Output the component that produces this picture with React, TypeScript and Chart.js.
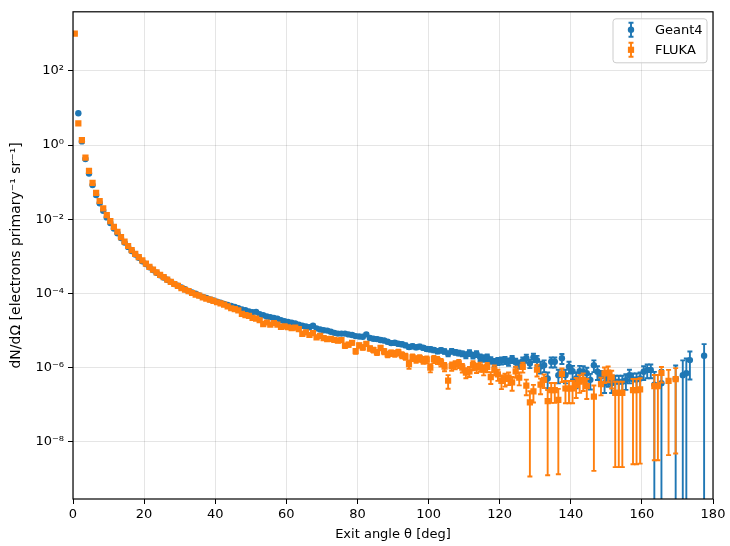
import { useEffect, useRef } from "react";
import { Chart, registerables } from "chart.js";

Chart.register(...registerables);

// bin centres, one degree wide
const angles = Array.from({ length: 180 }, (_, i) => i + 0.5);

// dN/dOmega per bin (null = no entry)
const g4Values = [
  null, 7.2, 1.25, 0.42, 0.17, 0.083, 0.045, 0.027, 0.017, 0.0112,
  7.9e-3, 5.6e-3, 4.2e-3, 3.1e-3, 2.35e-3, 1.8e-3, 1.4e-3, 1.12e-3, 9.1e-4, 7.4e-4,
  6.2e-4, 5.1e-4, 4.3e-4, 3.6e-4, 3.1e-4, 2.7e-4, 2.35e-4, 2.05e-4, 1.8e-4, 1.62e-4,
  1.45e-4, 1.3e-4, 1.17e-4, 1.07e-4, 9.8e-5, 8.9e-5, 8.1e-5, 7.6e-5, 6.9e-5, 6.5e-5,
  6.0e-5, 5.6e-5, 5.2e-5, 4.9e-5, 4.6e-5, 4.3e-5, 4.0e-5, 3.7e-5, 3.55e-5, 3.3e-5,
  3.15e-5, 3.2e-5, 2.75e-5, 2.6e-5, 2.4e-5, 2.3e-5, 2.2e-5, 2.1e-5, 1.9e-5, 1.78e-5,
  1.7e-5, 1.62e-5, 1.55e-5, 1.45e-5, 1.35e-5, 1.29e-5, 1.23e-5, 1.35e-5, 1.15e-5, 1.07e-5,
  1.02e-5, 1.0e-5, 9.3e-6, 8.7e-6, 8.3e-6, 8.3e-6, 8.3e-6, 7.9e-6, 7.6e-6, 7.1e-6,
  6.9e-6, 6.8e-6, 7.9e-6, 6.3e-6, 6.0e-6, 5.9e-6, 5.6e-6, 5.4e-6, 5.0e-6, 4.6e-6,
  4.7e-6, 4.4e-6, 4.3e-6, 4.0e-6, 3.6e-6, 3.8e-6, 3.55e-6, 3.7e-6, 3.45e-6, 3.2e-6,
  3.15e-6, 3.0e-6, 2.8e-6, 2.95e-6, 2.75e-6, 2.4e-6, 2.8e-6, 2.6e-6, 2.5e-6, 2.4e-6,
  2.2e-6, 2.5e-6, 2.15e-6, 2.35e-6, 1.9e-6, 1.8e-6, 1.9e-6, 1.6e-6, 1.4e-6, 1.5e-6,
  1.55e-6, 1.6e-6, 1.45e-6, 1.7e-6, 1.4e-6, 1.25e-6, 1.5e-6, 1.8e-6, 1.3e-6, 1.9e-6,
  1.6e-6, 1.07e-6, 1.17e-6, 5.1e-7, 1.45e-6, 1.45e-6, 6.3e-7, 1.8e-6, 6.3e-7, 1.07e-6,
  8e-7, 5.1e-7, 8e-7, 7.8e-7, 7.1e-7, 4.7e-7, 1.17e-6, 7.8e-7, 5.8e-7, 3.8e-7,
  5.1e-7, 3.8e-7, 4.2e-7, 4.2e-7, 4.2e-7, 4.6e-7, 6.3e-7, 4.8e-7, 4.8e-7, 5.1e-7,
  7.8e-7, 8.7e-7, 8.7e-7, 3.5e-7, null, 3.8e-7, null, null, null, 5e-7,
  null, 6.3e-7, 7.1e-7, 1.6e-6, null, null, null, 2.1e-6, null, null,
];

// relative statistical error per bin
const g4RelErr = [
  0.01, 0.01, 0.01, 0.01, 0.01, 0.01, 0.01, 0.01, 0.01, 0.01,
  0.01, 0.01, 0.01, 0.01, 0.01, 0.01, 0.01, 0.01, 0.01, 0.01,
  0.01, 0.01, 0.01, 0.01, 0.01, 0.01, 0.01, 0.01, 0.01, 0.01,
  0.02, 0.02, 0.02, 0.02, 0.02, 0.03, 0.03, 0.03, 0.03, 0.03,
  0.03, 0.03, 0.03, 0.04, 0.04, 0.04, 0.04, 0.04, 0.04, 0.04,
  0.05, 0.05, 0.05, 0.05, 0.05, 0.05, 0.05, 0.05, 0.05, 0.05,
  0.06, 0.06, 0.06, 0.06, 0.06, 0.06, 0.06, 0.06, 0.06, 0.06,
  0.08, 0.08, 0.08, 0.08, 0.08, 0.08, 0.08, 0.08, 0.08, 0.08,
  0.09, 0.09, 0.09, 0.09, 0.09, 0.1, 0.1, 0.1, 0.1, 0.1,
  0.12, 0.12, 0.12, 0.12, 0.12, 0.12, 0.12, 0.12, 0.12, 0.12,
  0.14, 0.14, 0.14, 0.14, 0.14, 0.15, 0.15, 0.15, 0.15, 0.15,
  0.18, 0.18, 0.18, 0.18, 0.2, 0.2, 0.2, 0.2, 0.22, 0.22,
  0.22, 0.22, 0.22, 0.22, 0.25, 0.25, 0.25, 0.25, 0.25, 0.25,
  0.3, 0.35, 0.35, 0.45, 0.3, 0.3, 0.4, 0.3, 0.4, 0.35,
  0.4, 0.45, 0.4, 0.4, 0.4, 0.45, 0.35, 0.4, 0.4, 0.45,
  0.4, 0.45, 0.45, 0.45, 0.45, 0.45, 0.4, 0.45, 0.45, 0.45,
  0.4, 0.4, 0.4, 1.2, 0, 1.3, 0, 0, 0, 1.3,
  0, 1.5, 1.5, 0.7, 0, 0, 0, 1.05, 0, 0,
];

const flukaValues = [
  1000, 3.8, 1.35, 0.46, 0.2, 0.095, 0.051, 0.031, 0.0195, 0.0129,
  8.9e-3, 6.2e-3, 4.6e-3, 3.3e-3, 2.5e-3, 1.9e-3, 1.48e-3, 1.17e-3, 9.5e-4, 7.8e-4,
  6.4e-4, 5.2e-4, 4.4e-4, 3.7e-4, 3.15e-4, 2.75e-4, 2.35e-4, 2.05e-4, 1.8e-4, 1.6e-4,
  1.4e-4, 1.26e-4, 1.15e-4, 1.03e-4, 9.3e-5, 8.7e-5, 7.9e-5, 7.2e-5, 6.8e-5, 6.3e-5,
  5.8e-5, 5.4e-5, 5.0e-5, 4.5e-5, 4.0e-5, 3.8e-5, 3.5e-5, 2.8e-5, 2.6e-5, 2.5e-5,
  2.2e-5, 2.1e-5, 1.9e-5, 1.5e-5, 1.65e-5, 1.45e-5, 1.6e-5, 1.45e-5, 1.25e-5, 1.3e-5,
  1.23e-5, 1.17e-5, 1.2e-5, 1.1e-5, 8.1e-6, 8.9e-6, 7.6e-6, 8.5e-6, 6.6e-6, 7.2e-6,
  6.3e-6, 5.9e-6, 6.0e-6, 5.6e-6, 5.4e-6, 5.5e-6, 3.9e-6, 4.2e-6, 4.7e-6, 2.8e-6,
  4.0e-6, 3.55e-6, 4.4e-6, 3.3e-6, 3.0e-6, 2.6e-6, 3.4e-6, 2.75e-6, 2.3e-6, 2.5e-6,
  2.4e-6, 2.6e-6, 2.2e-6, 2.0e-6, 1.25e-6, 1.9e-6, 1.7e-6, 1.8e-6, 1.6e-6, 1.65e-6,
  1.0e-6, 1.7e-6, 1.6e-6, 1.4e-6, 1.07e-6, 4.5e-7, 1.1e-6, 1.2e-6, 1.3e-6, 1.0e-6,
  7.4e-7, 8e-7, 1.17e-6, 1.0e-6, 1.07e-6, 8.9e-7, 1.05e-6, 5.6e-7, 8.9e-7, 6.6e-7,
  4.4e-7, 5e-7, 5.4e-7, 4e-7, 8e-7, 5.4e-7, 1.05e-6, 3.3e-7, 1.17e-7, 2.3e-7,
  8.9e-7, 3.5e-7, 4.7e-7, 1.26e-7, 2.5e-7, 2.5e-7, 1.35e-7, 6.8e-7, 2.75e-7, 2.75e-7,
  2.75e-7, 3.4e-7, 4.2e-7, 4.7e-7, 3.2e-7, null, 1.66e-7, null, 3.6e-7, 7e-7,
  7.4e-7, 5.5e-7, 2.1e-7, 2.1e-7, 2.1e-7, null, null, 2.5e-7, 2.5e-7, 2.6e-7,
  null, null, null, 3.2e-7, 3.2e-7, 7.2e-7, null, 4.4e-7, null, 4.9e-7,
  null, null, null, null, null, null, null, null, null, null,
];

const flukaRelErr = [
  0.01, 0.01, 0.01, 0.01, 0.01, 0.01, 0.01, 0.01, 0.01, 0.01,
  0.01, 0.01, 0.01, 0.01, 0.01, 0.01, 0.01, 0.01, 0.01, 0.01,
  0.01, 0.01, 0.01, 0.01, 0.01, 0.02, 0.02, 0.02, 0.02, 0.02,
  0.03, 0.03, 0.03, 0.03, 0.03, 0.03, 0.03, 0.03, 0.03, 0.03,
  0.04, 0.04, 0.04, 0.04, 0.04, 0.05, 0.05, 0.05, 0.05, 0.05,
  0.06, 0.06, 0.06, 0.07, 0.06, 0.07, 0.06, 0.07, 0.07, 0.07,
  0.08, 0.08, 0.08, 0.08, 0.09, 0.09, 0.09, 0.09, 0.1, 0.1,
  0.1, 0.11, 0.11, 0.11, 0.11, 0.11, 0.13, 0.13, 0.12, 0.15,
  0.13, 0.14, 0.13, 0.14, 0.15, 0.16, 0.14, 0.16, 0.17, 0.17,
  0.18, 0.18, 0.18, 0.19, 0.25, 0.2, 0.2, 0.2, 0.21, 0.21,
  0.25, 0.22, 0.22, 0.23, 0.25, 0.4, 0.25, 0.25, 0.25, 0.26,
  0.3, 0.3, 0.27, 0.28, 0.28, 0.3, 0.28, 0.35, 0.3, 0.33,
  0.4, 0.38, 0.37, 0.4, 0.33, 0.38, 0.3, 0.45, 0.99, 0.5,
  0.35, 0.45, 0.4, 0.99, 0.55, 0.55, 0.99, 0.4, 0.6, 0.6,
  0.6, 0.55, 0.5, 0.5, 0.55, 0, 0.99, 0, 0.5, 0.45,
  0.45, 0.5, 0.99, 0.99, 0.99, 0, 0, 0.99, 0.99, 0.99,
  0, 0, 0, 0.99, 0.99, 0.45, 0, 0.99, 0, 0.99,
  0, 0, 0, 0, 0, 0, 0, 0, 0, 0,
];

const seriesNames = ["Geant4", "FLUKA"];
const seriesColors = ["#1f77b4", "#ff7f0e"];
const xTicks = [0, 20, 40, 60, 80, 100, 120, 140, 160, 180];
const yTicks = [1e-8, 1e-6, 1e-4, 1e-2, 1, 1e2];

const FONT = "DejaVu Sans";

const superDigits: Record<string, string> = {
  "0": "⁰", "1": "¹", "2": "²", "3": "³", "4": "⁴",
  "5": "⁵", "6": "⁶", "7": "⁷", "8": "⁸", "9": "⁹", "-": "⁻",
};
const powerLabel = (v: number) =>
  "10" + String(Math.round(Math.log10(v))).split("").map((c) => superDigits[c]).join("");

function toPoints(values: (number | null)[], rel: number[]) {
  const pts: { x: number; y: number; err: number }[] = [];
  values.forEach((v, i) => {
    if (v == null) return;
    pts.push({ x: angles[i], y: v, err: v * rel[i] });
  });
  return pts;
}

// draws vertical error bars of a dataset right before its markers
const errorBars = {
  id: "errorBars",
  beforeDatasetDraw(chart: any, args: any) {
    const { ctx, chartArea, scales } = chart;
    const ds = chart.data.datasets[args.index];
    ctx.save();
    ctx.beginPath();
    ctx.rect(chartArea.left, chartArea.top, chartArea.right - chartArea.left, chartArea.bottom - chartArea.top);
    ctx.clip();
    ctx.strokeStyle = ds.backgroundColor;
    ctx.lineWidth = 1.9;
    ds.data.forEach((p: any) => {
      const x = scales.x.getPixelForValue(p.x);
      const top = scales.y.getPixelForValue(p.y + p.err);
      const lo = p.y - p.err;
      const bottom = lo > 0 ? scales.y.getPixelForValue(lo) : chartArea.bottom + 10;
      ctx.beginPath();
      ctx.moveTo(x, top);
      ctx.lineTo(x, bottom);
      ctx.moveTo(x - 2.5, top);
      ctx.lineTo(x + 2.5, top);
      if (lo > 0) {
        ctx.moveTo(x - 2.5, bottom);
        ctx.lineTo(x + 2.5, bottom);
      }
      ctx.stroke();
    });
    ctx.restore();
  },
};

function drawHandle(ctx: CanvasRenderingContext2D, x: number, y: number, color: string, square: boolean) {
  ctx.strokeStyle = color;
  ctx.fillStyle = color;
  ctx.lineWidth = 1.9;
  ctx.beginPath();
  ctx.moveTo(x, y - 7);
  ctx.lineTo(x, y + 7);
  ctx.moveTo(x - 2.5, y - 7);
  ctx.lineTo(x + 2.5, y - 7);
  ctx.moveTo(x - 2.5, y + 7);
  ctx.lineTo(x + 2.5, y + 7);
  ctx.stroke();
  ctx.beginPath();
  if (square) ctx.rect(x - 3.1, y - 3.1, 6.2, 6.2);
  else ctx.arc(x, y, 3.2, 0, Math.PI * 2);
  ctx.fill();
}

// axes frame and the legend box in the upper right corner
const frameAndLegend = {
  id: "frameAndLegend",
  afterDraw(chart: any) {
    const { ctx, chartArea } = chart;
    ctx.save();
    ctx.strokeStyle = "#000";
    ctx.lineWidth = 1.2;
    ctx.strokeRect(chartArea.left, chartArea.top, chartArea.right - chartArea.left, chartArea.bottom - chartArea.top);

    const bx = chartArea.right - 100;
    const by = chartArea.top + 7;
    const bw = 94;
    const bh = 44;
    ctx.beginPath();
    ctx.roundRect(bx, by, bw, bh, 3);
    ctx.fillStyle = "rgba(255,255,255,0.8)";
    ctx.fill();
    ctx.strokeStyle = "#cccccc";
    ctx.lineWidth = 1;
    ctx.stroke();

    seriesNames.forEach((name, i) => {
      const y = by + 11 + i * 20;
      drawHandle(ctx, bx + 18, y, seriesColors[i], i === 1);
      ctx.fillStyle = "#000";
      ctx.font = `13px '${FONT}'`;
      ctx.textBaseline = "middle";
      ctx.textAlign = "left";
      ctx.fillText(name, bx + 42, y + 1);
    });
    ctx.restore();
  },
};

export default function App() {
  const canvasRef = useRef<HTMLCanvasElement | null>(null);

  useEffect(() => {
    document.body.style.margin = "0";
    if (!canvasRef.current) return;
    const ctx = canvasRef.current.getContext("2d");
    if (!ctx) return;

    const gridColor = "rgba(0,0,0,0.1)";
    const tickFont = { family: FONT, size: 13 };

    const chart = new Chart(ctx, {
      type: "scatter",
      data: {
        datasets: [
          {
            label: seriesNames[0],
            data: toPoints(g4Values, g4RelErr),
            backgroundColor: seriesColors[0],
            borderWidth: 0,
            pointStyle: "circle",
            pointRadius: 3.2,
            order: 2,
          },
          {
            label: seriesNames[1],
            data: toPoints(flukaValues, flukaRelErr),
            backgroundColor: seriesColors[1],
            borderWidth: 0,
            pointStyle: "rect",
            pointRadius: 4.4,
            order: 1,
          },
        ],
      },
      options: {
        animation: false,
        responsive: false,
        maintainAspectRatio: false,
        layout: { padding: { top: 10, right: 17, left: 8, bottom: 2 } },
        plugins: { legend: { display: false }, tooltip: { enabled: false } },
        scales: {
          x: {
            type: "linear",
            min: 0,
            max: 180,
            afterBuildTicks: (scale: any) => {
              scale.ticks = xTicks.map((v) => ({ value: v }));
            },
            afterFit: (scale: any) => {
              scale.height = 45;
            },
            ticks: { color: "#000", font: tickFont, padding: 3, maxRotation: 0 },
            grid: { color: gridColor, tickColor: "#000", tickLength: 5, lineWidth: 1 },
            border: { display: false },
            title: {
              display: true,
              text: "Exit angle θ [deg]",
              color: "#000",
              font: tickFont,
              padding: { top: 2, bottom: 2 },
            },
          },
          y: {
            type: "logarithmic",
            min: 2.9e-10,
            max: 3.88e3,
            afterBuildTicks: (scale: any) => {
              scale.ticks = yTicks.map((v) => ({ value: v }));
            },
            afterFit: (scale: any) => {
              scale.width = 65;
            },
            ticks: {
              color: "#000",
              font: tickFont,
              padding: 4,
              callback: (v: any) => powerLabel(Number(v)),
            },
            grid: { color: gridColor, tickColor: "#000", tickLength: 5, lineWidth: 1 },
            border: { display: false },
            title: {
              display: true,
              text: "dN/dΩ [electrons primary⁻¹ sr⁻¹]",
              color: "#000",
              font: { family: FONT, size: 14 },
              padding: { top: 0, bottom: 2 },
            },
          },
        },
      },
      plugins: [errorBars, frameAndLegend],
    });

    return () => {
      chart.destroy();
    };
  }, []);

  return <canvas ref={canvasRef} width={730} height={546} style={{ display: "block" }}></canvas>;
}
